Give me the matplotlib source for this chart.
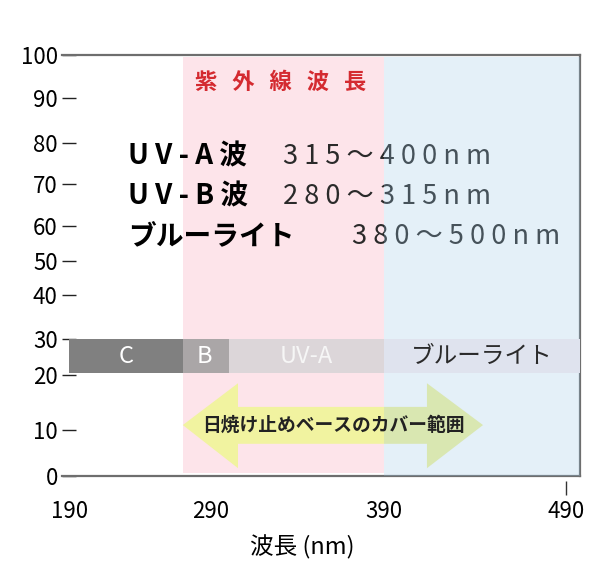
import numpy as np
import matplotlib.pyplot as plt
from matplotlib.patches import Polygon
from matplotlib.scale import FuncScale
from matplotlib.transforms import blended_transform_factory

plt.rcParams['font.family'] = ['Noto Sans CJK JP', 'DejaVu Sans']

# the artwork is not drawn to scale, so each axis is piecewise linear between its ticks
x_ticks = [190, 290, 390, 490]
x_tick_px = [70, 211, 384, 566]
y_ticks = [0, 10, 20, 30, 40, 50, 60, 70, 80, 90, 100]
y_tick_px = [476, 430, 375, 339, 295, 261, 226, 184, 143, 98, 55]

# bands in the bar row
band_names = ["C", "B", "UV-A", "ブルーライト"]
band_start = [189.3, 270, 300.4, 390]
band_end = [270, 300.4, 390, 497.7]
band_colors = ["#808080", "#aaa6a7", "#dcd6d9", "#dfe3ee"]
band_text_colors = ["white", "white", "#f6f6f6", "#2a2a2a"]
band_bottom = 20.5
band_top = 30

uv_range = [270, 390]
blue_range = [390, 497.7]

# 日焼け止めベースのカバー範囲 arrow
cover_range = [270, 444.4]
cover_head = [305.6, 413.6]
cover_y = [1.7, 7.0, 10.9, 14.2, 18.5]

spec_names = ["U V - A 波", "U V - B 波", "ブルーライト"]
spec_ranges = ["3 1 5 ～ 4 0 0 n m", "2 8 0 ～ 3 1 5 n m", "3 8 0 ～ 5 0 0 n m"]


def piecewise(vals, pos):
    vals = np.asarray(vals, float)
    pos = np.asarray(pos, float)
    s0 = (pos[1] - pos[0]) / (vals[1] - vals[0])
    s1 = (pos[-1] - pos[-2]) / (vals[-1] - vals[-2])

    def fwd(v):
        v = np.asarray(v, float)
        out = np.interp(v, vals, pos)
        out = np.where(v < vals[0], pos[0] + (v - vals[0]) * s0, out)
        return np.where(v > vals[-1], pos[-1] + (v - vals[-1]) * s1, out)

    def inv(p):
        p = np.asarray(p, float)
        out = np.interp(p, pos, vals)
        out = np.where(p < pos[0], vals[0] + (p - pos[0]) / s0, out)
        return np.where(p > pos[-1], vals[-1] + (p - pos[-1]) / s1, out)

    return fwd, inv


fig = plt.figure(figsize=(6.14, 5.68), dpi=100)
ax = fig.add_axes([62 / 614, 92 / 568, 518 / 614, 421 / 568])

xf, xi = piecewise(x_ticks, x_tick_px)
yf, yi = piecewise(y_ticks, [476 - p for p in y_tick_px])
ax.set_xscale(FuncScale(ax.xaxis, (xf, xi)))
ax.set_yscale(FuncScale(ax.yaxis, (yf, yi)))
ax.set_xlim(float(xi(62)), float(xi(580)))
ax.set_ylim(0, 100)

# background regions
ax.axvspan(*uv_range, ymin=0.007, ymax=0.995, color='#fde4ea', lw=0, zorder=0)
ax.axvspan(*blue_range, ymin=0, ymax=0.995, color='#97c5e4', alpha=0.26, lw=0, zorder=3)

# band bar row
for name, s, e, c, tc in zip(band_names, band_start, band_end, band_colors, band_text_colors):
    ax.barh(band_bottom, e - s, left=s, height=band_top - band_bottom, align='edge',
            color=c, lw=0, zorder=4)
    ax.text((s + e) / 2, (band_bottom + band_top) / 2, name, color=tc, fontsize=17,
            ha='center', va='center', zorder=5)

# double arrow
x0, x1 = cover_range
h0, h1 = cover_head
yb, sb, yc, st, yt = cover_y
arrow = Polygon([(x0, yc), (h0, yt), (h0, st), (h1, st), (h1, yt), (x1, yc),
                 (h1, yb), (h1, sb), (h0, sb), (h0, yb)],
                closed=True, color='#f1f3a0', lw=0, zorder=2)
ax.add_patch(arrow)
ax.text(0.523, 0.121, "日焼け止めベースのカバー範囲", transform=ax.transAxes, fontsize=13.5,
        weight='bold', color='#222222', ha='center', va='center', zorder=6)

# headline texts
ax.text(0.423, 0.936, "紫   外   線   波   長", transform=ax.transAxes,
        fontsize=16, weight='bold', color='#d42a30', ha='center', va='center', zorder=6)
line_y = [0.758, 0.665, 0.570]
range_x = [0.427, 0.427, 0.560]
for name, rng, yy, rx in zip(spec_names, spec_ranges, line_y, range_x):
    ax.text(0.127, yy, name, transform=ax.transAxes, fontsize=20, weight='bold',
            color='black', va='center', zorder=2)
    ax.text(rx, yy, rng, transform=ax.transAxes, fontsize=19.5, color='#2a2a2a',
            va='center', zorder=2)

# axes styling
ax.spines['left'].set_visible(False)
for side in ['top', 'right', 'bottom']:
    ax.spines[side].set_color('#6e6e6e')
    ax.spines[side].set_linewidth(1.6)

ax.set_yticks(y_ticks)
ax.tick_params(axis='y', direction='in', length=10, width=1, color='#222222',
               labelsize=16, pad=3)
ax.set_xticks(x_ticks)
ax.tick_params(axis='x', which='major', length=0, labelsize=16, pad=17)
ax.set_xticks([290, 390], minor=True)
ax.tick_params(axis='x', which='minor', direction='inout', length=15, width=1, color='#333333')
ax.yaxis.set_minor_locator(plt.NullLocator())
trans = blended_transform_factory(ax.transData, ax.transAxes)
ax.vlines(490, -0.045, -0.012, transform=trans, color='#333333', lw=1, clip_on=False)

ax.set_xlabel("波長 (nm)", fontsize=17)
ax.xaxis.set_label_coords((302 - 62) / 518, -0.14)

fig.savefig('out.png', dpi=100)
